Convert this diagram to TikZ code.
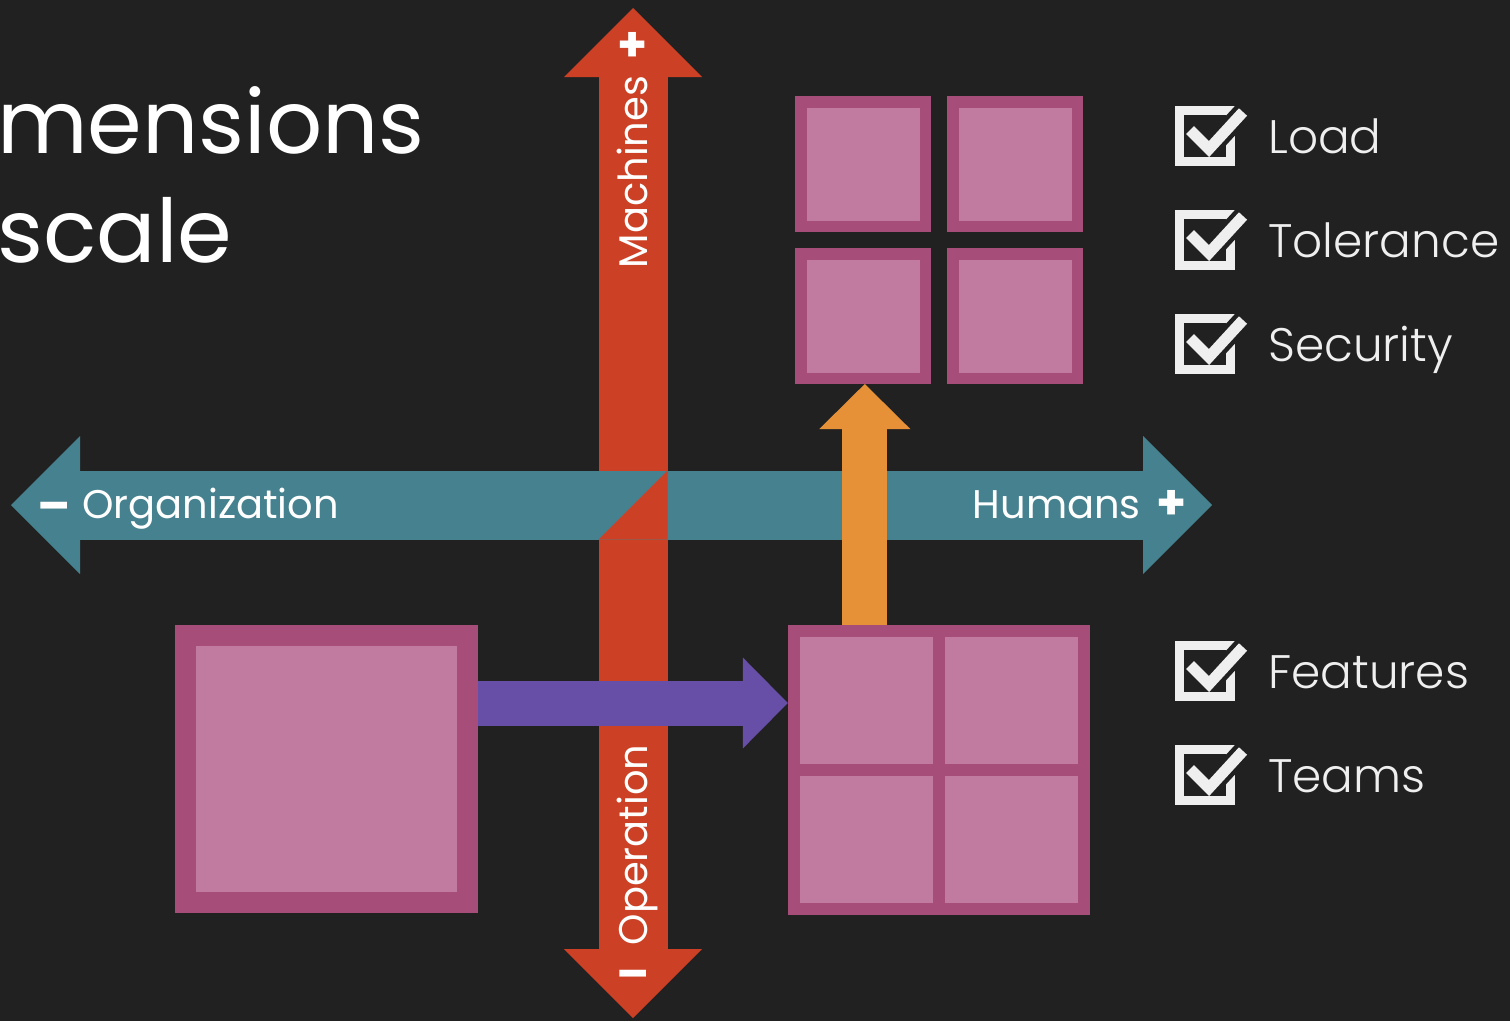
\documentclass[tikz,border=0pt]{standalone}
\usepackage{fontspec}
\setmainfont{Poppins}
\newfontfamily\lightfont{Poppins Light}
\usepackage{xcolor}
\usetikzlibrary{positioning}
\usetikzlibrary{calc}
\usetikzlibrary{arrows.meta}

\definecolor{bg}{HTML}{212121}
\definecolor{axisred}{HTML}{CC4125}
\definecolor{axisteal}{HTML}{45818E}
\definecolor{groworange}{HTML}{E69138}
\definecolor{growpurple}{HTML}{674EA7}
\definecolor{tiledark}{HTML}{A64D79}
\definecolor{tilelight}{HTML}{C27BA0}
\definecolor{checkgrey}{HTML}{EFEFEF}

\tikzset{
  AxisHead/.tip={Triangle[width=138pt,length=69pt,line width=0pt]},
  GrowHead/.tip={Triangle[width=91pt,length=45pt,line width=0pt]},
  axisarrow/.style={line width=69pt, AxisHead-AxisHead},
  growarrow/.style={line width=45pt, -GrowHead},
  tile/.style={fill=tilelight, draw=tiledark, inner sep=0pt},
  axislabel/.style={text=white, inner sep=0pt, font=\fontsize{40}{48}\selectfont},
  signlabel/.style={text=white, inner sep=0pt, font=\bfseries\fontsize{48}{48}\selectfont},
  titletext/.style={text=white, inner sep=0pt, font=\fontsize{88}{96}\selectfont},
  checklabel/.style={text=checkgrey, inner sep=0pt, font=\lightfont\fontsize{47}{56}\selectfont},
  checkbox/.pic={
    \draw[checkgrey, line width=9pt] (-25.5,-25.5) rectangle (25.5,25.5);
    \draw[bg, line width=20pt] (4,13) -- (38,-24);
    \draw[checkgrey, line width=11pt] (-15,-6) -- (4,13) -- (38,-24);
  }
}

\begin{document}
\begin{tikzpicture}[x=1pt, y=-1pt]
\useasboundingbox (0,0) rectangle (1510,1021);
\fill[bg] (0,0) rectangle (1510,1021);

\coordinate (mtop) at (633,8);
\coordinate (mbot) at (633,1018);
\coordinate (oleft) at (11,505);
\coordinate (hright) at (1212,505);
\coordinate (cross) at (mtop |- oleft);

\node[tile, line width=21pt, minimum width=282pt, minimum height=267pt] (solo) at (326.5,769) {};
\node[fill=tiledark, inner sep=0pt, minimum width=302pt, minimum height=290pt] (team) at (939,770) {};
\foreach \i in {0,1}
  \foreach \j in {0,1}
    \node[fill=tilelight, inner sep=0pt, minimum width=133pt, minimum height=127pt, anchor=north west]
      (cell\i\j) at ($(team.north west)+(12+145*\i,12+139*\j)$) {};

\node[tile, line width=11.5pt, minimum size=124.5pt] (t1) at (863,164) {};
\node[tile, line width=11.5pt, minimum size=124.5pt, right=16pt of t1] (t2) {};
\node[tile, line width=11.5pt, minimum size=124.5pt, below=16pt of t1] (t3) {};
\node[tile, line width=11.5pt, minimum size=124.5pt, right=16pt of t3] (t4) {};

\draw[axisarrow, axisred] (mtop) -- (mbot);
\draw[axisarrow, axisteal] (oleft) -- (hright);
\fill[axisred] ($(cross)+(-34.5,34.5)$) -- ($(cross)+(34.5,-34.5)$) -- ($(cross)+(34.5,34.5)$) -- cycle;

\coordinate (upfrom) at ($(team.north west)+(77,0)$);
\draw[growarrow, groworange] (upfrom) -- (upfrom |- t3.south);
\coordinate (rightfrom) at ($(solo.east)+(0,-66)$);
\draw[growarrow, growpurple] (rightfrom) -- (rightfrom -| team.west);

\node[axislabel, rotate=90, anchor=base] (machines) at (647,172) {Machines};
\node[axislabel, rotate=90, anchor=base] (operation) at (647,845) {Operation};
\node[axislabel, anchor=base west] (organization) at (82,518) {Organization};
\node[axislabel, anchor=base east] (humans) at (1141,518) {Humans};
\node[signlabel] (mplus) at (633,47) {+};
\node[signlabel] (ominus) at (633,980) {–};
\node[signlabel] (lminus) at (54,512) {–};
\node[signlabel] (hplus) at (1172,505) {+};

\node[titletext, anchor=base west] (title1) at (-3,153) {mensions};
\node[titletext, anchor=base west] (title2) at (-3,262) {scale};

\foreach \y/\txt [count=\k] in {136/Load,240/Tolerance,344/Security,671/Features,775/Teams} {
  \pic (box\k) at (1205,\y) {checkbox};
  \node[checklabel, anchor=base west] (item\k) at (1268,\y+17) {\txt};
}
\end{tikzpicture}
\end{document}
